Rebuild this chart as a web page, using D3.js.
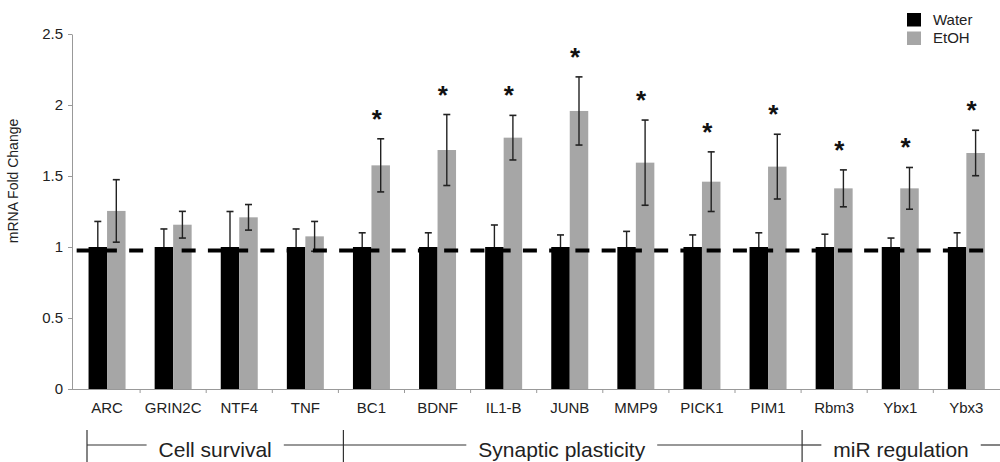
<!DOCTYPE html>
<html>
<head>
<meta charset="utf-8">
<script src="https://cdn.jsdelivr.net/npm/d3@7"></script>
<style>
  body { margin: 0; background: #fff; }
  svg { display: block; font-family: "Liberation Sans", Arial, sans-serif; }
</style>
</head>
<body>
<script>
// genes on the x axis
const genes = ["ARC", "GRIN2C", "NTF4", "TNF", "BC1", "BDNF", "IL1-B", "JUNB", "MMP9", "PICK1", "PIM1", "Rbm3", "Ybx1", "Ybx3"];
const series = ["Water", "EtOH"];

// fold change values
const water = [1, 1, 1, 1, 1, 1, 1, 1, 1, 1, 1, 1, 1, 1];
const waterErr = [0.18, 0.127, 0.25, 0.127, 0.10, 0.10, 0.155, 0.085, 0.11, 0.085, 0.10, 0.09, 0.063, 0.10];
const etoh = [1.254, 1.157, 1.209, 1.075, 1.575, 1.683, 1.770, 1.958, 1.594, 1.460, 1.566, 1.413, 1.413, 1.662];
const etohErr = [0.22, 0.094, 0.09, 0.105, 0.187, 0.25, 0.157, 0.24, 0.30, 0.21, 0.228, 0.13, 0.147, 0.16];
const significant = [false, false, false, false, true, true, true, true, true, true, true, true, true, true];

const yTicks = [0, 0.5, 1, 1.5, 2, 2.5];
const refLevel = 0.975; // dashed reference line

// functional groups under the axis
const groupNames = ["Cell survival", "Synaptic plasticity", "miR regulation"];

const w = 1000, h = 462;
const colors = { Water: "#000000", EtOH: "#a6a6a6" };

const svg = d3.select("body").append("svg")
    .attr("width", w)
    .attr("height", h);

//scales
const x = d3.scaleBand()
    .domain(genes)
    .range([74, 999.4]);

const barW = 18.5;
const x1 = d3.scaleBand()
    .domain(series)
    .range([(x.bandwidth() - 2 * barW) / 2, (x.bandwidth() + 2 * barW) / 2]);

const y = d3.scaleLinear()
    .domain([0, 2.5])
    .range([389, 34]);

//y axis
const yAxis = svg.append("g")
    .attr("transform", "translate(72,0)")
    .call(d3.axisLeft(y).tickValues(yTicks).tickSize(4).tickSizeOuter(0).tickPadding(5).tickFormat(d => d));
yAxis.select(".domain").attr("stroke", "#999");
yAxis.selectAll(".tick line").attr("stroke", "#999");
yAxis.selectAll(".tick text")
    .attr("font-size", 15)
    .attr("fill", "#222")
    .attr("font-family", "Liberation Sans, Arial, sans-serif");

svg.append("text")
    .attr("transform", "translate(18,181) rotate(-90)")
    .attr("text-anchor", "middle")
    .attr("font-size", 14)
    .attr("fill", "#222")
    .text("mRNA Fold Change");

//x axis with labels under each gene
const xAxis = svg.append("g")
    .attr("transform", "translate(0,389.5)")
    .call(d3.axisBottom(x).tickSize(0).tickPadding(13).tickSizeOuter(0));
xAxis.select(".domain").remove();
xAxis.selectAll(".tick text")
    .attr("font-size", 15)
    .attr("fill", "#222")
    .attr("font-family", "Liberation Sans, Arial, sans-serif");

svg.append("line")
    .attr("x1", 72).attr("x2", w)
    .attr("y1", 389.5).attr("y2", 389.5)
    .attr("stroke", "#999");

// boundary ticks between genes
svg.selectAll(".xtick")
    .data(genes.slice(1))
    .enter()
    .append("line")
    .attr("class", "xtick")
    .attr("x1", d => x(d)).attr("x2", d => x(d))
    .attr("y1", 389.5).attr("y2", 393)
    .attr("stroke", "#999");

//bars
const rows = genes.map((g, i) => ({
    gene: g,
    vals: [
        { s: "Water", v: water[i], e: waterErr[i] },
        { s: "EtOH", v: etoh[i], e: etohErr[i] }
    ],
    sig: significant[i]
}));

const groups = svg.selectAll(".gene")
    .data(rows)
    .enter()
    .append("g")
    .attr("class", "gene")
    .attr("transform", d => `translate(${x(d.gene)},0)`);

groups.selectAll("rect")
    .data(d => d.vals)
    .enter()
    .append("rect")
    .attr("x", d => x1(d.s))
    .attr("width", x1.bandwidth())
    .attr("y", d => y(d.v))
    .attr("height", d => y(0) - y(d.v))
    .attr("fill", d => colors[d.s]);

//dashed reference line
svg.append("line")
    .attr("x1", 72).attr("x2", 985)
    .attr("y1", y(refLevel)).attr("y2", y(refLevel))
    .attr("stroke", "#000")
    .attr("stroke-width", 4)
    .attr("stroke-dasharray", "14,12.25")
    .attr("stroke-dashoffset", 21.6);

//error bars (lower half of the water bars is hidden in the black bar)
const cap = 3.5;
groups.each(function (d) {
    const g = d3.select(this);
    d.vals.forEach(p => {
        const cx = x1(p.s) + x1.bandwidth() / 2;
        const hi = y(p.v + p.e);
        const lo = p.s === "Water" ? y(p.v) : y(p.v - p.e);
        g.append("line")
            .attr("x1", cx).attr("x2", cx)
            .attr("y1", hi).attr("y2", lo)
            .attr("stroke", "#222").attr("stroke-width", 1.4);
        const caps = p.s === "Water" ? [hi] : [hi, lo];
        caps.forEach(yy => g.append("line")
            .attr("x1", cx - cap).attr("x2", cx + cap)
            .attr("y1", yy).attr("y2", yy)
            .attr("stroke", "#222").attr("stroke-width", 1.6));
    });
});

//significance stars
groups.filter(d => d.sig)
    .append("text")
    .attr("x", x1("EtOH") + x1.bandwidth() / 2 - 4)
    .attr("y", d => y(d.vals[1].v + d.vals[1].e) - 11)
    .attr("text-anchor", "middle")
    .attr("font-size", 26)
    .attr("font-weight", "bold")
    .attr("fill", "#111")
    .text("*");

//legend
const legend = svg.append("g").attr("transform", "translate(907,13)");
series.forEach((s, i) => {
    legend.append("rect")
        .attr("x", 0).attr("y", i * 18.5)
        .attr("width", 14).attr("height", 13.5)
        .attr("fill", colors[s]);
    legend.append("text")
        .attr("x", 26).attr("y", i * 18.5 + 11.5)
        .attr("font-size", 15)
        .attr("fill", "#222")
        .text(s);
});

//group brackets under the axis
const lineY = 445;
const starts = [x("ARC") + 13, x("BC1") + 5, x("Rbm3") + 1];
const ends = [starts[1], starts[2], w];
const textShift = [0, -11, 0];
const gap = 12;

starts.forEach(sx => svg.append("line")
    .attr("x1", sx).attr("x2", sx)
    .attr("y1", 430).attr("y2", h)
    .attr("stroke", "#333").attr("stroke-width", 1.2));

groupNames.forEach((name, i) => {
    const cx = (starts[i] + ends[i]) / 2 + textShift[i];
    const t = svg.append("text")
        .attr("x", cx).attr("y", 457)
        .attr("text-anchor", "middle")
        .attr("font-size", 21)
        .attr("fill", "#222")
        .text(name);
    const tw = t.node().getComputedTextLength();
    svg.append("line")
        .attr("x1", starts[i]).attr("x2", cx - tw / 2 - gap)
        .attr("y1", lineY).attr("y2", lineY)
        .attr("stroke", "#333").attr("stroke-width", 1.2);
    svg.append("line")
        .attr("x1", cx + tw / 2 + gap).attr("x2", ends[i])
        .attr("y1", lineY).attr("y2", lineY)
        .attr("stroke", "#333").attr("stroke-width", 1.2);
});
</script>
</body>
</html>
